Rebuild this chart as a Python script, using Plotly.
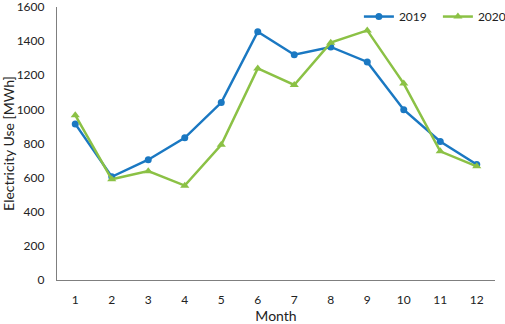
import plotly.graph_objects as go

months = [str(m) for m in range(1, 13)]
use_2019 = [915, 605, 705, 833, 1040, 1455, 1320, 1366, 1278, 998, 812, 677]
use_2020 = [966, 590, 638, 553, 792, 1240, 1143, 1391, 1463, 1151, 754, 666]
y_ticks = [0, 200, 400, 600, 800, 1000, 1200, 1400, 1600]

fig = go.Figure()
fig.add_trace(go.Scatter(x=months, y=use_2019, name="2019", mode="lines+markers",
                         line=dict(color="#1a78c2", width=2.5),
                         marker=dict(symbol="circle", size=7, color="#1a78c2")))
fig.add_trace(go.Scatter(x=months, y=use_2020, name="2020", mode="lines+markers",
                         line=dict(color="#8bc145", width=2.5),
                         marker=dict(symbol="triangle-up", size=8, color="#8bc145")))

fig.update_layout(
    width=505, height=324,
    margin=dict(l=57, r=10, t=7, b=44, autoexpand=False),
    paper_bgcolor="white", plot_bgcolor="white",
    font=dict(family="Lato, Open Sans, sans-serif", size=12, color="#222"),
    legend=dict(orientation="h", x=1.05, xanchor="right", y=0.965, yanchor="middle",
                font=dict(size=12), bgcolor="rgba(0,0,0,0)", itemwidth=30,
                entrywidth=34, entrywidthmode="pixels", tracegroupgap=0),
    showlegend=True,
)
fig.update_xaxes(type="category", showgrid=False, showline=True, linecolor="#7f7f7f",
                 linewidth=1.2, ticks="outside", ticklen=8, tickcolor="rgba(0,0,0,0)",
                 title=dict(text="Month", standoff=8),
                 range=[-0.5, 11.5], zeroline=False)
fig.update_yaxes(range=[0, 1600], tickvals=y_ticks, showgrid=False, showline=True,
                 linecolor="#7f7f7f", linewidth=1.2, ticks="outside", ticklen=9,
                 tickcolor="rgba(0,0,0,0)", zeroline=False, ticklabeloverflow="allow",
                 title=dict(text="Electricity Use [MWh]", standoff=6))

fig.write_html("out.html", config={"displayModeBar": False},
               post_script="document.body.style.margin='0';")
